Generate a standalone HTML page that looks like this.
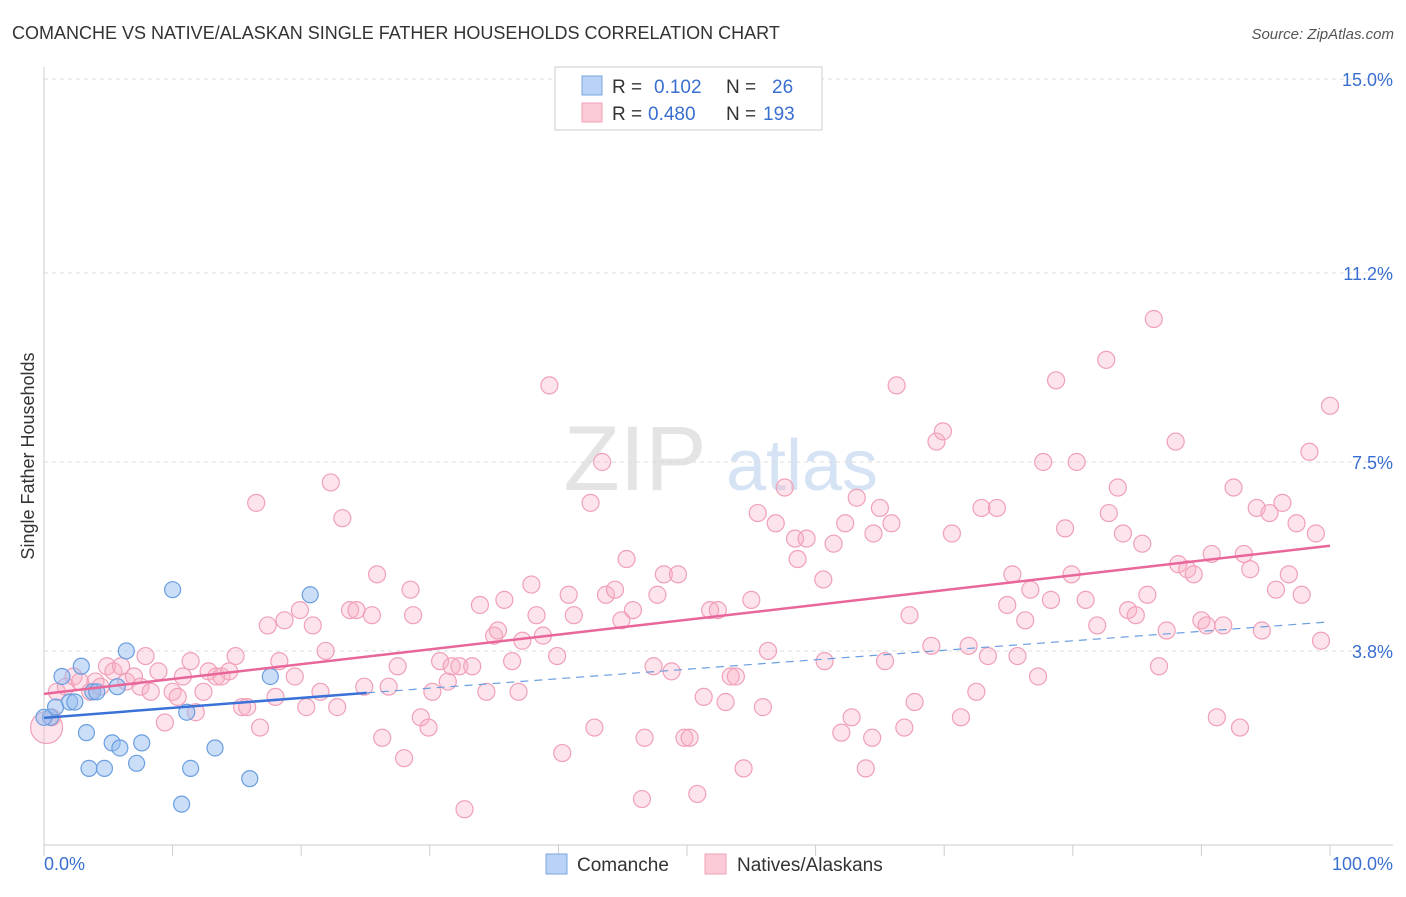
<!DOCTYPE html>
<html><head><meta charset="utf-8"><style>
body{margin:0;background:#fff;font-family:"Liberation Sans",sans-serif;}
svg text{font-family:"Liberation Sans",sans-serif;}
</style></head><body>
<svg id="chart" width="1406" height="892" xmlns="http://www.w3.org/2000/svg">
<text x="12" y="39" font-size="18" fill="#333">COMANCHE VS NATIVE/ALASKAN SINGLE FATHER HOUSEHOLDS CORRELATION CHART</text>
<text x="1394" y="39" font-size="15" fill="#555" text-anchor="end" font-style="italic">Source: ZipAtlas.com</text>
<g>
<text x="635" y="490" font-size="92" fill="#e4e4e4" text-anchor="middle" font-family="Liberation Serif">ZIP</text>
<text x="802" y="490" font-size="72" fill="#d5e3f5" text-anchor="middle">atlas</text>
</g>
<g id="grid"></g>
<g id="axes"></g>
<g id="pts"></g>
<g id="trend"></g>
<text transform="translate(34,456) rotate(-90)" font-size="18" fill="#333" text-anchor="middle">Single Father Households</text>
<g>
<rect x="555" y="67" width="267" height="63" fill="#fff" stroke="#ccc"/>
<rect x="582" y="76" width="20" height="19" fill="#b9d2f5" stroke="#7aa7e0"/>
<rect x="582" y="103" width="20" height="19" fill="#fbcbd8" stroke="#f0a0b8"/>
<text x="612" y="93" font-size="19" fill="#333">R =</text>
<text x="654" y="93" font-size="19" fill="#3a6fd0">0.102</text>
<text x="726" y="93" font-size="19" fill="#333">N =</text>
<text x="772" y="93" font-size="19" fill="#3a6fd0">26</text>
<text x="612" y="120" font-size="19" fill="#333">R =</text>
<text x="648" y="120" font-size="19" fill="#3a6fd0">0.480</text>
<text x="726" y="120" font-size="19" fill="#333">N =</text>
<text x="763" y="120" font-size="19" fill="#3a6fd0">193</text>
</g>
<g>
<rect x="546" y="854" width="21" height="20" fill="#b9d2f5" stroke="#7aa7e0"/>
<text x="577" y="871" font-size="19" fill="#333">Comanche</text>
<rect x="705" y="854" width="21" height="20" fill="#fbcbd8" stroke="#f0a0b8"/>
<text x="737" y="871" font-size="19" fill="#333">Natives/Alaskans</text>
</g>
</svg>
<script>
const yTicks=[3.8,7.5,11.2,15.0];
const yTickLabels=["3.8%","7.5%","11.2%","15.0%"];
const xTickCount=10;
const blueX=[0.5,0.9,1.4,2.0,2.4,2.9,3.3,3.5,3.8,4.1,4.7,5.3,5.7,5.9,6.4,7.2,7.6,10.0,10.7,11.1,11.4,13.3,16.0,17.6,20.7,0.0];
const blueY=[2.5,2.7,3.3,2.8,2.8,3.5,2.2,1.5,3.0,3.0,1.5,2.0,3.1,1.9,3.8,1.6,2.0,5.0,0.8,2.6,1.5,1.9,1.3,3.3,4.9,2.5];
const pinkX=[0.2,0.6,1.0,1.7,2.3,2.8,3.6,4.0,4.4,4.9,5.4,6.0,6.4,7.0,7.5,7.9,8.3,8.9,9.4,10.0,10.4,10.8,11.4,11.8,12.4,12.8,13.4,13.8,14.4,14.9,15.4,15.8,16.5,16.8,17.4,18.0,18.3,18.7,19.5,19.9,20.4,20.9,21.5,21.9,22.3,22.8,23.2,23.8,24.3,24.9,25.5,25.9,26.3,26.8,27.5,28.0,28.5,28.7,29.3,29.9,30.2,30.8,31.4,31.7,32.3,32.7,33.3,33.9,34.4,35.0,35.3,35.8,36.4,36.9,37.2,37.9,38.3,38.8,39.3,39.9,40.3,40.8,41.2,42.5,42.8,43.4,43.7,44.4,44.9,45.3,45.8,46.5,46.7,47.4,47.7,48.2,48.8,49.3,49.8,50.2,50.8,51.3,51.8,52.4,53.0,53.4,53.8,54.4,55.0,55.5,55.9,56.3,56.9,57.6,58.4,58.6,59.3,60.6,60.7,61.4,62.0,62.3,62.8,63.2,63.9,64.4,64.5,65.0,65.4,65.9,66.3,66.9,67.3,67.7,69.0,69.4,69.9,70.6,71.3,71.9,72.5,72.9,73.4,74.1,74.9,75.3,75.7,76.3,76.7,77.3,77.7,78.3,78.7,79.4,79.9,80.3,81.0,81.9,82.6,82.8,83.5,83.9,84.3,84.9,85.4,85.8,86.3,86.7,87.3,88.0,88.2,88.9,89.4,90.0,90.4,90.8,91.2,91.7,92.5,93.0,93.3,93.8,94.3,94.7,95.3,95.8,96.3,96.8,97.4,97.8,98.4,98.9,99.3,100];
const pinkY=[2.3,2.5,3.0,3.1,3.3,3.2,3.0,3.2,3.1,3.5,3.4,3.5,3.2,3.3,3.1,3.7,3.0,3.4,2.4,3.0,2.9,3.3,3.6,2.6,3.0,3.4,3.3,3.3,3.4,3.7,2.7,2.7,6.7,2.3,4.3,2.9,3.6,4.4,3.3,4.6,2.7,4.3,3.0,3.8,7.1,2.7,6.4,4.6,4.6,3.1,4.5,5.3,2.1,3.1,3.5,1.7,5.0,4.5,2.5,2.3,3.0,3.6,3.2,3.5,3.5,0.7,3.5,4.7,3.0,4.1,4.2,4.8,3.6,3.0,4.0,5.1,4.5,4.1,9.0,3.7,1.8,4.9,4.5,6.7,2.3,7.5,4.9,5.0,4.4,5.6,4.6,0.9,2.1,3.5,4.9,5.3,3.4,5.3,2.1,2.1,1.0,2.9,4.6,4.6,2.8,3.3,3.3,1.5,4.8,6.5,2.7,3.8,6.3,7.0,6.0,5.6,6.0,5.2,3.6,5.9,2.2,6.3,2.5,6.8,1.5,2.1,6.1,6.6,3.6,6.3,9.0,2.3,4.5,2.8,3.9,7.9,8.1,6.1,2.5,3.9,3.0,6.6,3.7,6.6,4.7,5.3,3.7,4.4,5.0,3.3,7.5,4.8,9.1,6.2,5.3,7.5,4.8,4.3,9.5,6.5,7.0,6.1,4.6,4.5,5.9,4.9,10.3,3.5,4.2,7.9,5.5,5.4,5.3,4.4,4.3,5.7,2.5,4.3,7.0,2.3,5.7,5.4,6.6,4.2,6.5,5.0,6.7,5.3,6.3,4.9,7.7,6.1,4.0,8.6];
const pinkTrend=[[0,2.96],[100,5.86]];
const blueTrendSolid=[[0,2.49],[25.1,2.98]];
const blueTrendDash=[[25.1,2.98],[100,4.37]];

const X0=44,X1=1330,Y0=845,YT=79;
const sx=v=>X0+(X1-X0)*v/100;
const sy=v=>Y0-(Y0-YT)*v/15;
const NS="http://www.w3.org/2000/svg";
function mk(tag,attrs,parent){const e=document.createElementNS(NS,tag);for(const k in attrs)e.setAttribute(k,attrs[k]);parent.appendChild(e);return e;}
const grid=document.getElementById('grid'),axes=document.getElementById('axes'),pts=document.getElementById('pts'),trend=document.getElementById('trend');
yTicks.forEach((t,i)=>{
 const l=mk('line',{x1:X0,x2:1393,y1:sy(t),y2:sy(t),stroke:'#ddd','stroke-dasharray':'4,4'},grid);
 
 
 const tx=mk('text',{x:1393,y:sy(t)+7,'font-size':18,fill:'#3a6fd0','text-anchor':'end'},axes);
 tx.textContent=yTickLabels[i];
 
 
});
let a=mk('line',{x1:X0,x2:X0,y1:67,y2:Y0,stroke:'#ccc'},axes);


a=mk('line',{x1:X0,x2:1393,y1:Y0,y2:Y0,stroke:'#ccc'},axes);


for(let i=0;i<=xTickCount;i++){
 const t=mk('line',{x1:sx(i*10),x2:sx(i*10),y1:Y0,y2:Y0+11,stroke:'#ccc'},axes);
 
 
}
let xl=mk('text',{x:44,y:870,'font-size':18,fill:'#3a6fd0'},axes);xl.textContent='0.0%';


xl=mk('text',{x:1393,y:870,'font-size':18,fill:'#3a6fd0','text-anchor':'end'},axes);xl.textContent='100.0%';


pinkX.forEach((x,i)=>{
 const c=mk('circle',{cx:sx(x),cy:sy(pinkY[i]),r:i===0?16:8.5,fill:'rgba(248,175,198,0.35)',stroke:'#f0a0b8','stroke-width':1.2},pts);
 
 
});
blueX.forEach((x,i)=>{
 const c=mk('circle',{cx:sx(x),cy:sy(blueY[i]),r:8,fill:'rgba(150,190,240,0.5)',stroke:'#6a9ee0','stroke-width':1.2},pts);
 
 
});
function ln(p,attrs,name){const l=mk('line',Object.assign({x1:sx(p[0][0]),y1:sy(p[0][1]),x2:sx(p[1][0]),y2:sy(p[1][1])},attrs),trend);
 
 }
ln(pinkTrend,{stroke:'#e8669a','stroke-width':2.5},'natives-trend-line');
ln(blueTrendSolid,{stroke:'#3a72d8','stroke-width':2.5},'comanche-trend-line');
ln(blueTrendDash,{stroke:'#6a9ee0','stroke-width':1.2,'stroke-dasharray':'8,6'},'comanche-trend-extension');
</script>
</body></html>
